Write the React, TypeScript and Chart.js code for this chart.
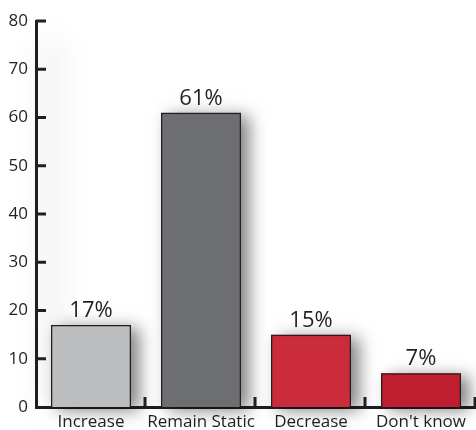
import React, { useEffect, useRef } from "react";
import { Chart, registerables } from "chart.js";

Chart.register(...registerables);

const categories = ["Increase", "Remain Static", "Decrease", "Don't know"];
const values = [17, 61, 15, 7];
const barColors = ["#bcbec0", "#6d6e71", "#ca2c3c", "#be1e2d"];
const yTicks = [0, 10, 20, 30, 40, 50, 60, 70, 80];

const INK = "#231f20";
const FONT = "'Open Sans', 'Noto Sans', sans-serif";

const shadowPlugin = {
  id: "barShadow",
  beforeDatasetsDraw(chart: any) {
    const ctx = chart.ctx;
    const a = chart.chartArea;
    // soft shadow near the y axis
    ctx.save();
    ctx.filter = "blur(14px)";
    ctx.fillStyle = "rgba(0,0,0,0.06)";
    ctx.fillRect(a.left + 4, a.top + 20, 22, a.bottom - a.top - 20);
    ctx.restore();
    // bar shadows
    const meta = chart.getDatasetMeta(0);
    ctx.save();
    ctx.shadowColor = "rgba(0,0,0,0.5)";
    ctx.shadowBlur = 16;
    ctx.shadowOffsetX = 8;
    ctx.shadowOffsetY = 3;
    meta.data.forEach((bar: any, i: number) => {
      const w = bar.width;
      ctx.fillStyle = barColors[i];
      ctx.fillRect(bar.x - w / 2, bar.y, w, bar.base - bar.y);
    });
    ctx.restore();
  },
};

const decoPlugin = {
  id: "deco",
  afterDraw(chart: any) {
    const ctx = chart.ctx;
    const a = chart.chartArea;
    const xs = chart.scales.x;
    const ys = chart.scales.y;
    ctx.save();
    ctx.shadowColor = "transparent";
    ctx.strokeStyle = INK;
    ctx.lineWidth = 3;
    ctx.beginPath();
    yTicks.forEach((v) => {
      if (v === 0) return;
      const y = ys.getPixelForValue(v);
      ctx.moveTo(a.left, y);
      ctx.lineTo(a.left + 10, y);
    });
    const half = (a.right - a.left) / categories.length / 2;
    categories.forEach((_, i) => {
      const x = xs.getPixelForValue(i) + half - 1;
      ctx.moveTo(x, a.bottom);
      ctx.lineTo(x, a.bottom - 10);
    });
    ctx.stroke();
    // value labels
    ctx.fillStyle = INK;
    ctx.font = `22px ${FONT}`;
    ctx.textAlign = "center";
    ctx.textBaseline = "alphabetic";
    const meta = chart.getDatasetMeta(0);
    meta.data.forEach((bar: any, i: number) => {
      ctx.fillText(values[i] + "%", bar.x, bar.y - 8);
    });
    ctx.restore();
  },
};

export default function App() {
  const ref = useRef<HTMLCanvasElement | null>(null);
  useEffect(() => {
    if (!ref.current) return;
    const chart = new Chart(ref.current, {
      type: "bar",
      data: {
        labels: categories,
        datasets: [
          {
            data: values,
            backgroundColor: barColors,
            borderColor: INK,
            borderWidth: 1.5,
            categoryPercentage: 1,
            barPercentage: 0.727,
          },
        ],
      },
      options: {
        responsive: false,
        animation: false,
        devicePixelRatio: 1,
        layout: { padding: { top: 21, right: 0, left: 0, bottom: 0 } },
        plugins: {
          legend: { display: false },
          tooltip: { enabled: false },
        },
        scales: {
          x: {
            grid: { display: false },
            border: { display: true, color: INK, width: 3 },
            ticks: {
              color: INK,
              font: { family: FONT, size: 17 },
              padding: -3,
              maxRotation: 0,
              autoSkip: false,
            },
            afterFit(scale: any) {
              scale.height = 23;
            },
          },
          y: {
            min: 0,
            max: 80,
            grid: { display: false, drawTicks: false },
            border: { display: true, color: INK, width: 3 },
            ticks: {
              stepSize: 10,
              color: INK,
              font: { family: FONT, size: 17 },
              padding: 8,
            },
            afterFit(scale: any) {
              scale.width = 36;
            },
          },
        },
      },
      plugins: [shadowPlugin, decoPlugin],
    });
    return () => chart.destroy();
  }, []);
  return (
    <div style={{ position: "fixed", left: 0, top: 0, width: 476, height: 430, background: "#fff" }}>
      <canvas ref={ref} width={476} height={430} style={{ width: 476, height: 430, display: "block" }} />
    </div>
  );
}
